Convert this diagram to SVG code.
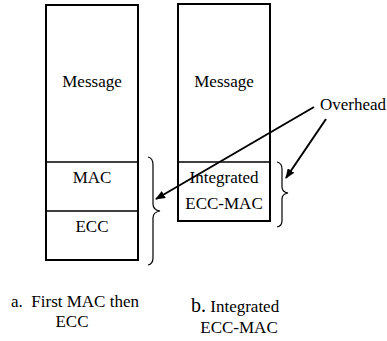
<svg xmlns="http://www.w3.org/2000/svg" width="387" height="341" viewBox="0 0 387 341" font-family="Liberation Serif, DejaVu Serif, serif" font-size="17">
  <defs>
    <marker id="arrow" markerWidth="10" markerHeight="8" refX="9" refY="4" orient="auto" markerUnits="userSpaceOnUse">
      <path d="M0,0 L10,4 L0,8 Z" fill="#000"/>
    </marker>
    <style>
      .box { fill: #fff; stroke: #000; stroke-width: 2; }
      .div { stroke: #000; stroke-width: 1.6; fill: none; }
      .brace { fill: none; stroke: #000; stroke-width: 1.2; }
      .conn { stroke: #000; stroke-width: 2; fill: none; marker-end: url(#arrow); }
      .c { text-anchor: middle; }
    </style>
  </defs>

  <rect width="387" height="341" fill="#fff"/>

  <!-- a. MAC then ECC packet -->
  <g id="packet-a">
    <rect class="box" x="46" y="5" width="92" height="255"/>
    <line class="div" x1="46" y1="162" x2="138" y2="162"/>
    <line class="div" x1="46" y1="211" x2="138" y2="211"/>
    <text class="c" x="92" y="87">Message</text>
    <text class="c" x="92" y="183">MAC</text>
    <text class="c" x="92" y="232">ECC</text>
  </g>

  <!-- b. Integrated ECC-MAC packet -->
  <g id="packet-b">
    <rect class="box" x="178" y="4" width="92" height="217"/>
    <line class="div" x1="178" y1="162" x2="270" y2="162"/>
    <text class="c" x="224" y="87">Message</text>
    <text class="c" x="224" y="183">Integrated</text>
    <text class="c" x="224" y="209">ECC-MAC</text>
  </g>

  <!-- overhead braces -->
  <g id="brace-a">
    <path class="brace" d="M148,157 Q153,158 153,165 L153,204 Q153,210 160,211 Q153,212 153,218 L153,258 Q153,264 148,265"/>
  </g>
  <g id="brace-b">
    <path class="brace" d="M277,162 Q282,163 282,169 L282,187 Q282,192 288,193 Q282,194 282,199 L282,221 Q282,226 277,227"/>
  </g>

  <g id="overhead">
    <text x="320" y="110">Overhead</text>
  </g>

  <!-- connectors -->
  <g id="connectors">
    <line class="conn" x1="314" y1="107" x2="156" y2="199"/>
    <line class="conn" x1="326" y1="119" x2="286" y2="178"/>
  </g>

  <!-- captions -->
  <g id="caption-a">
    <text x="11" y="307" xml:space="preserve">a.  First MAC then</text>
    <text class="c" x="72" y="327">ECC</text>
  </g>
  <g id="caption-b">
    <text x="191" y="312"><tspan font-size="20">b.</tspan> Integrated</text>
    <text class="c" x="239" y="333">ECC-MAC</text>
  </g>
</svg>
